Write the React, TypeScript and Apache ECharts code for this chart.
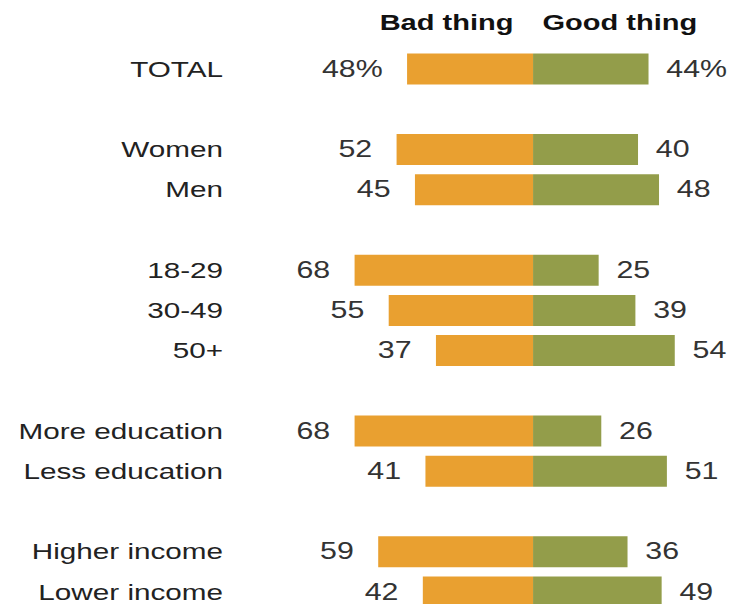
import React, { useEffect, useRef } from "react";
import * as echarts from "echarts";

const categories = [
  "TOTAL",
  "",
  "Women",
  "Men",
  "",
  "18-29",
  "30-49",
  "50+",
  "",
  "More education",
  "Less education",
  "",
  "Higher income",
  "Lower income",
];
const badValues = [48, null, 52, 45, null, 68, 55, 37, null, 68, 41, null, 59, 42];
const goodValues = [44, null, 40, 48, null, 25, 39, 54, null, 26, 51, null, 36, 49];
const seriesNames = ["Bad thing", "Good thing"];

const STRETCH = 1.32;
const FONT = "'Liberation Sans', Arial, sans-serif";

export default function App() {
  const ref = useRef<HTMLDivElement>(null);

  useEffect(() => {
    if (!ref.current) return;
    const chart = echarts.init(ref.current, undefined, { renderer: "svg" });
    const fmt = (p: any) => {
      const v = Math.abs(p.value);
      return p.dataIndex === 0 ? v + "%" : String(v);
    };
    chart.setOption({
      animation: false,
      grid: { left: 205, right: 12, top: 49, height: 563, containLabel: false },
      xAxis: {
        type: "value",
        min: -100,
        max: 70,
        show: false,
      },
      yAxis: {
        type: "category",
        data: categories,
        inverse: true,
        axisLine: { show: false },
        axisTick: { show: false },
        splitLine: { show: false },
        axisLabel: {
          margin: 36,
          color: "#222",
          fontSize: 22.5,
          fontFamily: FONT,
        },
      },
      graphic: [
        {
          type: "text",
          x: 389,
          y: 22,
          style: {
            text: seriesNames[0],
            align: "right",
            verticalAlign: "middle",
            fontSize: 22,
            fontWeight: "bold",
            fontFamily: FONT,
            fill: "#111",
          },
        },
        {
          type: "text",
          x: 411,
          y: 22,
          style: {
            text: seriesNames[1],
            align: "left",
            verticalAlign: "middle",
            fontSize: 22,
            fontWeight: "bold",
            fontFamily: FONT,
            fill: "#111",
          },
        },
      ],
      series: [
        {
          name: seriesNames[0],
          type: "bar",
          data: badValues.map((v) => (v == null ? null : -v)),
          barWidth: 31,
          barGap: "-100%",
          itemStyle: { color: "#E9A030" },
          label: {
            show: true,
            position: "left",
            distance: 18.5,
            formatter: fmt,
            color: "#333",
            fontSize: 23,
            fontFamily: FONT,
          },
        },
        {
          name: seriesNames[1],
          type: "bar",
          data: goodValues,
          barWidth: 31,
          barGap: "-100%",
          itemStyle: { color: "#939D4A" },
          label: {
            show: true,
            position: "right",
            distance: 13.5,
            formatter: fmt,
            color: "#333",
            fontSize: 23,
            fontFamily: FONT,
          },
        },
      ],
    });
    return () => chart.dispose();
  }, []);

  return (
    <div
      style={{
        position: "absolute",
        left: 0,
        top: 0,
        width: 733,
        height: 604,
        overflow: "hidden",
      }}
    >
      <div
        ref={ref}
        style={{
          width: 555,
          height: 620,
          transform: `scaleX(${STRETCH})`,
          transformOrigin: "0 0",
        }}
      />
    </div>
  );
}
